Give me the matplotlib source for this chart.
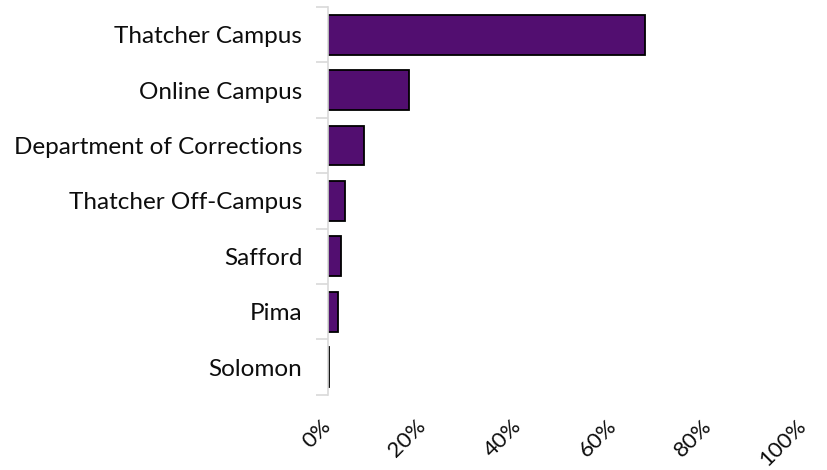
import matplotlib.pyplot as plt
import numpy as np

categories = ["Thatcher Campus", "Online Campus", "Department of Corrections",
              "Thatcher Off-Campus", "Safford", "Pima", "Solomon"]
shares = [0.667, 0.170, 0.076, 0.036, 0.028, 0.021, 0.002]
xticks = [0, 0.2, 0.4, 0.6, 0.8, 1.0]
xlabels = ["0%", "20%", "40%", "60%", "80%", "100%"]

plt.rcParams['font.family'] = ['Lato', 'DejaVu Sans']

fig = plt.figure(figsize=(8.28, 4.70), dpi=100)
ax = fig.add_axes([0.396, 0.160, 0.574, 0.825])

y = np.arange(len(categories))
ax.barh(y, shares, height=0.72, color="#520e70", edgecolor="black", linewidth=1.3)

ax.set_ylim(len(categories) - 0.5, -0.5)
ax.set_xlim(0, 1)

ax.set_yticks(y)
ax.set_yticklabels(categories, fontsize=17.5, color="#0d0d0d")
ax.set_yticks(np.arange(len(categories) + 1) - 0.5, minor=True)
ax.tick_params(axis='y', which='major', length=0, pad=18.5)
ax.tick_params(axis='y', which='minor', length=9, width=1.2, color="#d9d9d9")

ax.set_xticks(xticks)
ax.set_xticklabels(xlabels, fontsize=16, color="#0d0d0d", rotation=45,
                   ha='right', va='center', rotation_mode='anchor')
ax.tick_params(axis='x', length=0, pad=20)

for s in ['top', 'right', 'bottom']:
    ax.spines[s].set_visible(False)
ax.spines['left'].set_color("#d9d9d9")
ax.spines['left'].set_linewidth(1.2)

fig.savefig("out.png", dpi=100)
